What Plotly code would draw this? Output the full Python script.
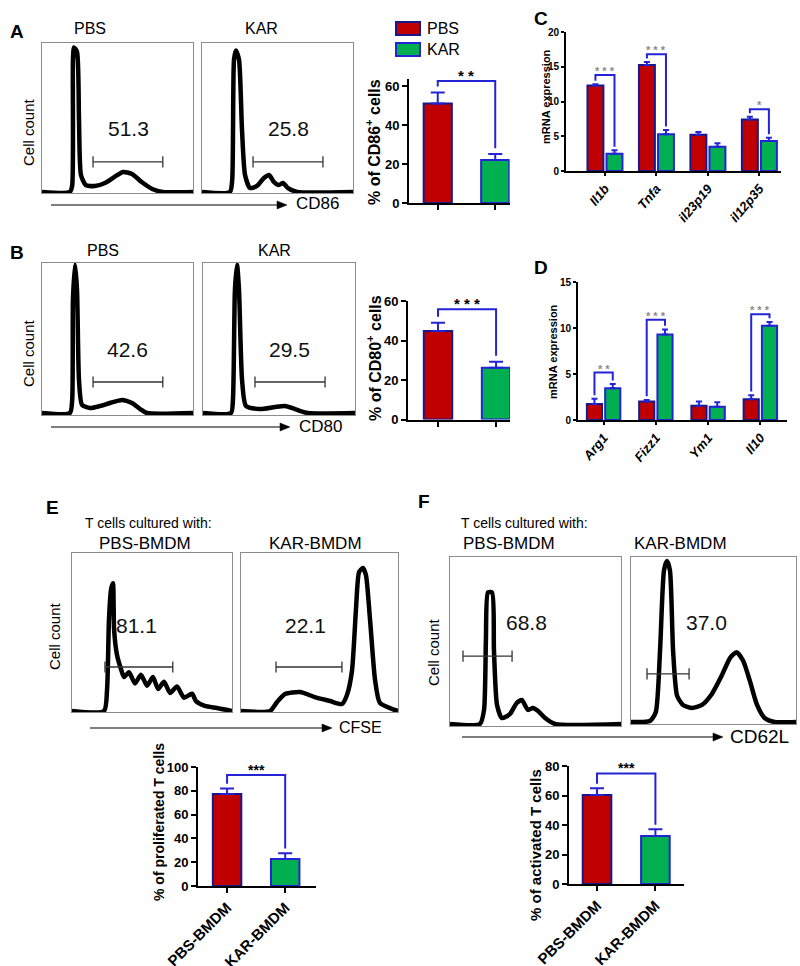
import plotly.graph_objects as go

W, H = 800, 966
FONT = "Liberation Sans, Arial, sans-serif"
RED, GREEN = "#c00000", "#00b050"
BLUE, NAVY = "#2424d6", "#18188c"
BOX = "#8c8c8c"

# ---------------- data ----------------
# flow histograms: fluorescence (arbitrary log units 0-100) vs % of max count
cd86_pbs_x = [0, 18.5, 20, 20.5, 21.2, 23.2, 24.5, 25.8, 29, 35, 41.7, 48, 53.6, 59.6, 66, 73, 80, 100]
cd86_pbs_y = [0.7, 0.7, 5, 89, 97, 94, 49, 12, 5.3, 4.7, 6.7, 10.7, 14, 12.7, 7.3, 2.7, 0.7, 0.7]
cd86_kar_x = [0, 18.5, 20, 21.2, 22.5, 24.5, 26.5, 28.5, 31.8, 36.4, 41, 44.4, 47.7, 51, 53.6, 57, 63, 100]
cd86_kar_y = [0.7, 0.7, 8.7, 89, 95, 89, 42, 12, 3.3, 4.7, 10, 12, 7.3, 5.3, 6.7, 3.3, 0.7, 0.7]
cd80_pbs_x = [0, 18.5, 20, 20.5, 21.9, 23.2, 24.5, 26.5, 31.8, 38.4, 45, 53, 59.6, 65, 69.5, 100]
cd80_pbs_y = [1.3, 1.3, 10, 76, 99, 82, 23, 6.6, 4.6, 5.9, 7.9, 9.9, 7.9, 3.9, 1.3, 1.3]
cd80_kar_x = [0, 18.4, 19.7, 21, 22.4, 23.7, 25.7, 28.3, 37.5, 47.4, 54, 60.5, 69, 100]
cd80_kar_y = [1.3, 1.3, 10, 82, 99, 82, 23, 5.9, 3.9, 5.3, 5.9, 3.9, 1.3, 1.3]
cfse_pbs_x = [0, 20, 21.9, 23.1, 24.4, 25.6, 26.3, 28.1, 30.6, 32.5, 35.6, 39.4, 43.1, 46.9, 50.6, 53.8,
              57.5, 61.3, 65.6, 70, 75, 77.5, 83, 90.6, 100]
cfse_pbs_y = [0.6, 0.6, 13.8, 58, 77, 81, 52, 36, 27, 22, 25, 18, 23.5, 16.5, 22, 14.5,
              19, 12, 16, 9, 11.5, 6.8, 3.8, 2.5, 0.6]
cfse_kar_x = [0, 18.5, 23, 28, 37.6, 47, 56.7, 64.3, 67.5, 70.7, 73.2, 75.2, 77.7, 79.6, 82.2, 85.4, 88.5, 98, 100]
cfse_kar_y = [0.6, 0.6, 6.3, 11.3, 12.6, 9.4, 6.9, 5, 10.7, 26, 64, 88, 90.6, 86, 58, 20, 5.7, 1.3, 0.6]
cd62l_pbs_x = [0, 17.5, 19.9, 21, 22.2, 24.6, 25.7, 27.5, 30.4, 35, 39, 42, 45.6, 48.5, 51.5, 55.6, 61.4, 100]
cd62l_pbs_y = [1.2, 1.2, 9.5, 51, 79, 79, 45, 12.4, 4.7, 7, 13.6, 15.4, 9.5, 10.7, 8.9, 4.7, 1.2, 1.2]
cd62l_kar_x = [0, 11.5, 15, 17.6, 20, 21.8, 23.6, 25.5, 27.9, 31.5, 37, 43, 49, 55, 60, 64, 67.9, 72,
               76.4, 81, 87, 100]
cd62l_kar_y = [1.2, 1.8, 7, 44, 92, 97.6, 92, 44, 17, 11.4, 9.6, 11.4, 18, 29, 39.5, 43, 38, 26,
               11.4, 3.6, 1.2, 1.2]

# gates: [low, high, level] and gated percentage
cd86_pbs_gate, cd86_pbs_pct = [33.8, 80.0, 20.7], "51.3"
cd86_kar_gate, cd86_kar_pct = [33.8, 80.1, 20.7], "25.8"
cd80_pbs_gate, cd80_pbs_pct = [33.8, 80.0, 21.7], "42.6"
cd80_kar_gate, cd80_kar_pct = [34.2, 80.3, 21.7], "29.5"
cfse_pbs_gate, cfse_pbs_pct = [20.6, 63.0, 28.3], "81.1"
cfse_kar_gate, cfse_kar_pct = [22.3, 64.3, 28.3], "22.1"
cd62l_pbs_gate, cd62l_pbs_pct = [7.6, 36.3, 41.4], "68.8"
cd62l_kar_gate, cd62l_kar_pct = [9.7, 35.2, 30.0], "37.0"

# bar charts (mean, SEM)
groups = ["PBS", "KAR"]
cd86_mean, cd86_sem = [51.0, 22.0], [5.7, 3.1]
cd80_mean, cd80_sem = [44.8, 26.2], [4.2, 3.1]
coculture = ["PBS-BMDM", "KAR-BMDM"]
prolif_mean, prolif_sem = [77.3, 22.7], [4.7, 4.8]
activ_mean, activ_sem = [60.3, 32.5], [4.6, 4.6]

m1_genes = ["Il1b", "Tnfa", "il23p19", "il12p35"]
m1_pbs, m1_pbs_sem = [12.3, 15.25, 5.2, 7.4], [0.2, 0.45, 0.4, 0.4]
m1_kar, m1_kar_sem = [2.5, 5.3, 3.5, 4.3], [0.5, 0.6, 0.5, 0.5]
m2_genes = ["Arg1", "Fizz1", "Ym1", "Il10"]
m2_pbs, m2_pbs_sem = [1.75, 2.0, 1.55, 2.25], [0.55, 0.17, 0.45, 0.45]
m2_kar, m2_kar_sem = [3.45, 9.3, 1.45, 10.25], [0.45, 0.55, 0.47, 0.4]

# significance brackets
cd86_sig = (62.6, "* *")
cd80_sig = (55.8, "* * *")
prolif_sig = (93.3, "***")
activ_sig = (75.0, "***")
m1_sig_idx, m1_sig_y, m1_sig_txt = [0, 1, 3], [13.8, 16.8, 8.9], ["* * *", "* * *", "*"]
m2_sig_idx, m2_sig_y, m2_sig_txt = [0, 1, 3], [5.15, 10.9, 11.5], ["* *", "* * *", "* * *"]

# ---------------- figure ----------------
fig = go.Figure()
layout = {}
ann = []
shapes = []


def ids(n):
    s = "" if n == 1 else str(n)
    return "x" + s, "y" + s, "xaxis" + s, "yaxis" + s


def px_dom_x(a, b):
    return [a / W, b / W]


def px_dom_y(top, bottom):
    return [1 - bottom / H, 1 - top / H]


def text(px, py, s, size, angle=0, xanchor="center", color="black"):
    ann.append(dict(x=px / W, y=1 - py / H, xref="paper", yref="paper", text=s, showarrow=False,
                    font=dict(family=FONT, size=size, color=color), textangle=angle,
                    xanchor=xanchor, yanchor="middle"))


def arrow(x0, x1, py):
    # axis arrow: thin line plus filled triangular head
    shapes.append(dict(type="line", xref="paper", yref="paper", x0=x0 / W, x1=(x1 - 8) / W,
                       y0=1 - py / H, y1=1 - py / H, line=dict(color="black", width=1.1)))
    path = "M %f,%f L %f,%f L %f,%f Z" % (x1 / W, 1 - py / H, (x1 - 10) / W, 1 - (py - 4) / H,
                                          (x1 - 10) / W, 1 - (py + 4) / H)
    shapes.append(dict(type="path", xref="paper", yref="paper", path=path, fillcolor="black",
                       line=dict(color="black", width=0.5)))


def hist(n, box, xs, ys, gate, pct, lx, ly):
    xr, yr, xa, ya = ids(n)
    common = dict(range=[0, 100], showline=True, mirror=True, linecolor=BOX, linewidth=1,
                  showgrid=False, zeroline=False, showticklabels=False, ticks="", fixedrange=True,
                  automargin=False)
    layout[xa] = dict(domain=px_dom_x(box[0], box[1]), anchor=yr, **common)
    layout[ya] = dict(domain=px_dom_y(box[2], box[3]), anchor=xr, **common)
    fig.add_scatter(x=xs, y=ys, xaxis=xr, yaxis=yr, mode="lines", hoverinfo="skip",
                    line=dict(color="black", width=4.5, shape="spline", smoothing=0.6))
    fig.add_scatter(x=gate[:2], y=[gate[2], gate[2]], xaxis=xr, yaxis=yr, mode="lines+markers",
                    hoverinfo="skip", line=dict(color="#333", width=1.3),
                    marker=dict(symbol="line-ns", size=8, line=dict(color="#333", width=1.3)))
    ann.append(dict(x=lx, y=ly, xref=xr, yref=yr, text=pct, showarrow=False,
                    font=dict(family=FONT, size=21, color="#111")))


def bar_axes(n, box, xrange, yrange, tickvals, ticksize, xlabels=None, xangle=-45, xsize=15, ticklen=5):
    xr, yr, xa, ya = ids(n)
    axis = dict(showline=True, linecolor="black", linewidth=2, ticks="outside", ticklen=ticklen,
                tickwidth=2, tickcolor="black", showgrid=False, zeroline=False, fixedrange=True,
                automargin=False)
    layout[xa] = dict(domain=px_dom_x(box[0], box[1]), anchor=yr, range=xrange, **axis)
    if xlabels is None:
        layout[xa]["showticklabels"] = False
    else:
        layout[xa].update(tickvals=xlabels[0], ticktext=xlabels[1], tickangle=xangle,
                          tickfont=dict(family=FONT, size=xsize, color="black", weight="bold"))
    layout[ya] = dict(domain=px_dom_y(box[2], box[3]), anchor=xr, range=yrange, tickvals=tickvals,
                      tickfont=dict(family=FONT, size=ticksize, color="black", weight="bold"), **axis)
    return xr, yr


def two_bar(n, box, cats, means, sems, sig, xrange, yrange, tickvals, ticksize, gap,
            star_size, star_shift, show_labels):
    labels = (cats, ["<b>%s</b>" % c for c in cats]) if show_labels else None
    xr, yr = bar_axes(n, box, xrange, yrange, tickvals, ticksize, labels)
    fig.add_bar(x=cats, y=means, xaxis=xr, yaxis=yr, width=0.49, hoverinfo="skip",
                marker=dict(color=[RED, GREEN], line=dict(color=[NAVY, BLUE], width=2)),
                error_y=dict(type="data", array=sems, arrayminus=[0, 0], symmetric=False,
                             color=BLUE, thickness=2, width=7))
    tops = [m + s for m, s in zip(means, sems)]
    fig.add_scatter(x=[cats[0], cats[0], cats[1], cats[1]],
                    y=[tops[0] + gap, sig[0], sig[0], tops[1] + gap], xaxis=xr, yaxis=yr,
                    mode="lines", hoverinfo="skip", line=dict(color=BLUE, width=2))
    ann.append(dict(x=0.5, y=sig[0], xref=xr, yref=yr, text="<b>%s</b>" % sig[1], showarrow=False,
                    yanchor="bottom", yshift=star_shift,
                    font=dict(family=FONT, size=star_size, color="black")))


def gene_bar(n, box, genes, pbs, pbs_sem, kar, kar_sem, sig_idx, sig_y, sig_txt, xrange, yrange,
             tickvals, width, d, gap):
    pos = list(range(len(genes)))
    labels = (pos, ["<b><i>%s</i></b>" % g for g in genes])
    xr, yr = bar_axes(n, box, xrange, yrange, tickvals, 10, labels, xangle=-50, xsize=13, ticklen=3)
    fig.add_bar(x=[p - d for p in pos], y=pbs, xaxis=xr, yaxis=yr, width=width, hoverinfo="skip",
                marker=dict(color=RED, line=dict(color=NAVY, width=2)),
                error_y=dict(type="data", array=pbs_sem, arrayminus=[0] * len(pos), symmetric=False,
                             color=BLUE, thickness=2, width=3))
    fig.add_bar(x=[p + d for p in pos], y=kar, xaxis=xr, yaxis=yr, width=width, hoverinfo="skip",
                marker=dict(color=GREEN, line=dict(color=BLUE, width=2)),
                error_y=dict(type="data", array=kar_sem, arrayminus=[0] * len(pos), symmetric=False,
                             color=BLUE, thickness=2, width=3))
    for i, by, t in zip(sig_idx, sig_y, sig_txt):
        t0, t1 = pbs[i] + pbs_sem[i], kar[i] + kar_sem[i]
        fig.add_scatter(x=[i - d, i - d, i + d, i + d], y=[t0 + gap, by, by, t1 + gap],
                        xaxis=xr, yaxis=yr, mode="lines", hoverinfo="skip",
                        line=dict(color=BLUE, width=2))
        ann.append(dict(x=i, y=by, xref=xr, yref=yr, text="<b>%s</b>" % t, showarrow=False,
                        yanchor="bottom", yshift=-4, font=dict(family=FONT, size=11, color="#8a8a8a")))


# ----- panel A -----
hist(1, (42, 193, 43, 193), cd86_pbs_x, cd86_pbs_y, cd86_pbs_gate, cd86_pbs_pct, 57, 42.7)
hist(2, (202, 353, 43, 193), cd86_kar_x, cd86_kar_y, cd86_kar_gate, cd86_kar_pct, 57, 42.7)
two_bar(3, (409, 509.6, 79.2, 203), groups, cd86_mean, cd86_sem, cd86_sig, [-0.5, 1.25], [0, 63.5],
        [0, 20, 40, 60], 13, 3, 15, -5, False)
# ----- panel C -----
gene_bar(4, (566, 781, 32, 171), m1_genes, m1_pbs, m1_pbs_sem, m1_kar, m1_kar_sem,
         m1_sig_idx, m1_sig_y, m1_sig_txt, [-0.757, 3.42], [0, 20], [0, 5, 10, 15, 20], 0.31, 0.185, 0.5)
# ----- panel B -----
hist(5, (42, 193, 263, 415), cd80_pbs_x, cd80_pbs_y, cd80_pbs_gate, cd80_pbs_pct, 56.3, 42.8)
hist(6, (203, 355, 263, 415), cd80_kar_x, cd80_kar_y, cd80_kar_gate, cd80_kar_pct, 56.6, 42.8)
two_bar(7, (408, 510, 301, 419.5), groups, cd80_mean, cd80_sem, cd80_sig, [-0.517, 1.24], [0, 60],
        [0, 20, 40, 60], 13, 3, 15, -5, False)
# ----- panel D -----
gene_bar(8, (578, 787, 282, 420), m2_genes, m2_pbs, m2_pbs_sem, m2_kar, m2_kar_sem,
         m2_sig_idx, m2_sig_y, m2_sig_txt, [-0.49, 3.51], [0, 15], [0, 5, 10, 15], 0.29, 0.175, 0.4)
# ----- panel E -----
hist(9, (72, 232, 553, 712), cfse_pbs_x, cfse_pbs_y, cfse_pbs_gate, cfse_pbs_pct, 40, 54.7)
hist(10, (241, 398, 553, 712), cfse_kar_x, cfse_kar_y, cfse_kar_gate, cfse_kar_pct, 40.8, 54.7)
two_bar(11, (198, 316, 767, 886), coculture, prolif_mean, prolif_sem, prolif_sig, [-0.5, 1.53],
        [0, 100], [0, 20, 40, 60, 80, 100], 13, 4, 14, -5, True)
# ----- panel F -----
hist(12, (450, 621, 557, 726), cd62l_pbs_x, cd62l_pbs_y, cd62l_pbs_gate, cd62l_pbs_pct, 45, 61)
hist(13, (631, 796, 557, 724), cd62l_kar_x, cd62l_kar_y, cd62l_kar_gate, cd62l_kar_pct, 46, 60.5)
two_bar(14, (569, 684, 766, 884), coculture, activ_mean, activ_sem, activ_sig, [-0.48, 1.49],
        [0, 80], [0, 20, 40, 60, 80], 13, 3, 14, -5, True)

# ----- labels -----
for lbl, x, y in [("A", 17, 32), ("B", 17, 252), ("C", 541, 18), ("D", 541, 268),
                  ("E", 52, 507), ("F", 424, 501)]:
    text(x, y, "<b>%s</b>" % lbl, 19)
text(90, 28, "PBS", 16)
text(261, 28, "KAR", 16)
text(103, 251, "PBS", 16)
text(274, 251, "KAR", 16)
text(148, 523, "T cells cultured with:", 14)
text(524, 523, "T cells cultured with:", 14)
text(145, 543, "PBS-BMDM", 17)
text(315, 543, "KAR-BMDM", 17)
text(509, 543, "PBS-BMDM", 17)
text(680, 543, "KAR-BMDM", 17)
for x, y in [(28, 132), (28, 353), (54, 636), (433, 652)]:
    text(x, y, "Cell count", 15, angle=-90)
arrow(51, 287, 205)
text(294, 204, "CD86", 17, xanchor="left")
arrow(51, 290, 427)
text(297, 426, "CD80", 17, xanchor="left")
arrow(90, 332, 728)
text(337, 727, "CFSE", 16, xanchor="left")
arrow(462, 723, 737)
text(728, 736, "CD62L", 19, xanchor="left")
text(373, 142, "<b>% of CD86<sup>+</sup> cells</b>", 16, angle=-90)
text(374, 358, "<b>% of CD80<sup>+</sup> cells</b>", 16, angle=-90)
text(546, 97, "<b>mRNA expression</b>", 11, angle=-90)
text(553, 352, "<b>mRNA expression</b>", 11, angle=-90)
text(159, 822, "<b>% of proliferated T cells</b>", 14, angle=-90)
text(535, 845, "<b>% of activated T cells</b>", 15, angle=-90)

# legend
for (y0, y1, fill, edge, name) in [(22, 35, RED, NAVY, "PBS"), (43, 56, GREEN, BLUE, "KAR")]:
    shapes.append(dict(type="rect", xref="paper", yref="paper", x0=396 / W, x1=420 / W,
                       y0=1 - y1 / H, y1=1 - y0 / H, fillcolor=fill, line=dict(color=edge, width=2)))
    text(425, (y0 + y1) / 2, name, 16, xanchor="left")

fig.update_layout(width=W, height=H, margin=dict(l=0, r=0, t=0, b=0), showlegend=False,
                  barmode="overlay", plot_bgcolor="white", paper_bgcolor="white",
                  font=dict(family=FONT, color="black"), annotations=ann, shapes=shapes, **layout)
fig.write_html("out.html", config={"displayModeBar": False},
               post_script="document.body.style.margin='0';")
